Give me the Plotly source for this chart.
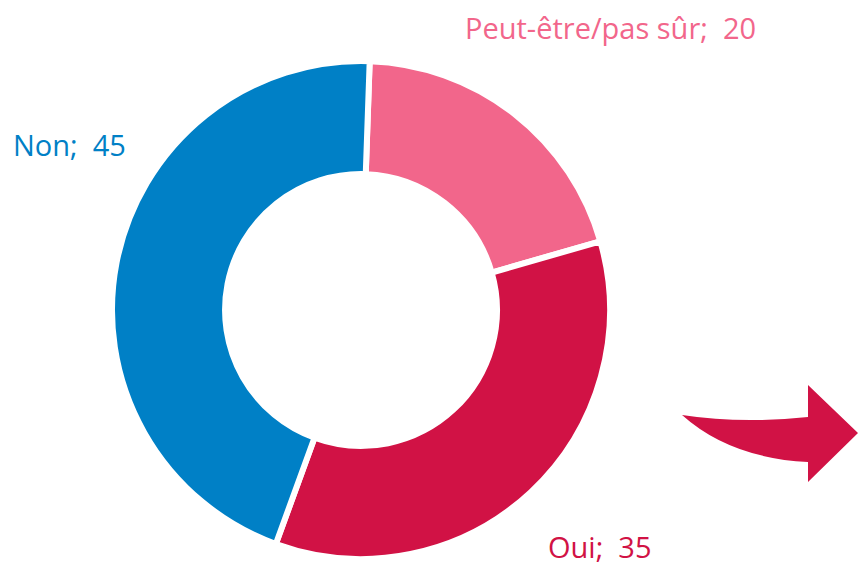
import plotly.graph_objects as go

W, H = 859, 567

labels = ["Peut-être/pas sûr", "Oui", "Non"]
values = [20, 35, 45]
colors = ["#F2668B", "#D11245", "#0080C6"]
label_pos = [(464, 27), (547, 546), (12, 145)]  # left x, center y in px

def px(x, y):
    return x / W, 1 - y / H

fig = go.Figure()
cx, cy, r = 361, 310, 249
fig.add_trace(go.Pie(
    labels=labels, values=values, sort=False, direction="clockwise", rotation=2,
    hole=0.546, textinfo="none", hoverinfo="label+value",
    marker=dict(colors=colors, line=dict(color="white", width=6)),
    domain=dict(x=[(cx - r) / W, (cx + r) / W], y=[1 - (cy + r) / H, 1 - (cy - r) / H]),
    showlegend=False,
))

for lab, val, col, (lx, ly) in zip(labels, values, colors, label_pos):
    x, y = px(lx, ly)
    fig.add_annotation(x=x, y=y, xref="paper", yref="paper", xanchor="left", yanchor="middle",
                       text=f"{lab};\u00a0\u00a0{val}", showarrow=False, borderpad=0,
                       font=dict(family="Open Sans", size=29, color=col))

# decorative curved arrow
pts = [("M", 682, 415), ("Q", 740, 424, 808, 417), ("L", 808, 385), ("L", 858, 433),
       ("L", 808, 482), ("L", 808, 462), ("Q", 730, 458, 682, 415)]
path = ""
for p in pts:
    cmd = p[0]
    coords = []
    for i in range(1, len(p), 2):
        a, b = px(p[i], p[i + 1])
        coords.append(f"{a:.5f},{b:.5f}")
    path += cmd + " " + " ".join(coords) + " "
path += "Z"
fig.add_shape(type="path", xref="paper", yref="paper", path=path,
              fillcolor="#D11245", line=dict(width=0))

fig.update_layout(width=W, height=H, margin=dict(l=0, r=0, t=0, b=0),
                  paper_bgcolor="white", plot_bgcolor="white")
fig.write_html("out.html", config={"displayModeBar": False},
               post_script="document.body.style.margin='0';document.body.style.overflow='hidden';")
